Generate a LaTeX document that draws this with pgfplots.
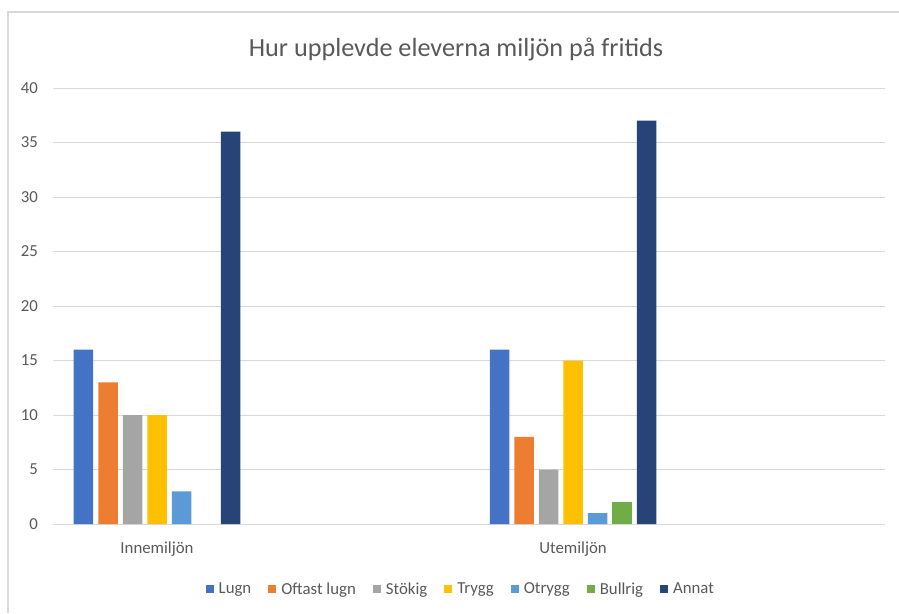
\documentclass[border=0pt]{standalone}
\usepackage{pgfplots}
\pgfplotsset{compat=1.18}
\usepackage{fontspec}
\setmainfont{Carlito}
\definecolor{cLugn}{HTML}{4472C4}
\definecolor{cOftast}{HTML}{ED7D31}
\definecolor{cStokig}{HTML}{A5A5A5}
\definecolor{cTrygg}{HTML}{FFC000}
\definecolor{cOtrygg}{HTML}{5B9BD5}
\definecolor{cBullrig}{HTML}{70AD47}
\definecolor{cAnnat}{HTML}{264478}
\definecolor{txt}{HTML}{595959}
\definecolor{grd}{HTML}{D9D9D9}
\begin{document}
\begin{tikzpicture}
\useasboundingbox (0pt,0pt) rectangle (899pt,-613pt);
\draw[grd, line width=1.2pt] (8pt,-613pt) -- (8pt,-12pt) -- (899pt,-12pt);
\begin{axis}[
  at={(53pt,-524pt)}, anchor=south west,
  scale only axis, width=832pt, height=436pt,
  xmin=-0.5, xmax=3.5, ymin=0, ymax=40,
  ytick={0,5,...,40},
  xtick={0,2}, xticklabels={Innemiljön,Utemiljön},
  ymajorgrids, grid style={grd, line width=1pt},
  axis line style={draw=none},
  major tick length=0pt,
  tick style={draw=none},
  /pgf/number format/assume math mode=true,
  ticklabel style={font=\fontsize{16.8}{20}\selectfont, text=txt},
  yticklabel style={inner sep=0pt, anchor=east, xshift=-15pt},
  xticklabel style={inner sep=0pt, anchor=base, yshift=-29pt},
  title={Hur upplevde eleverna miljön på fritids},
  title style={at={(axis description cs:0.4844,1.0596)}, anchor=base, inner sep=0pt,
    font=\fontsize{26.2}{30}\selectfont, text=txt},
  ybar, bar width=19.5pt,
  legend columns=-1,
  legend style={at={(axis description cs:0.492,-0.1490)}, anchor=center,
    draw=none, fill=none, font=\fontsize{16.8}{20}\selectfont, text=txt,
    nodes={inner xsep=5pt, inner ysep=3pt},
    /tikz/every even column/.append style={column sep=12pt}},
  legend image code/.code={\fill[#1] (0pt,-4pt) rectangle (8pt,4pt);},
]
\addplot[fill=cLugn, draw=none, bar shift=-73.5pt] coordinates {(0,16) (2,16)};
\addplot[fill=cOftast, draw=none, bar shift=-49pt] coordinates {(0,13) (2,8)};
\addplot[fill=cStokig, draw=none, bar shift=-24.5pt] coordinates {(0,10) (2,5)};
\addplot[fill=cTrygg, draw=none, bar shift=0pt] coordinates {(0,10) (2,15)};
\addplot[fill=cOtrygg, draw=none, bar shift=24.5pt] coordinates {(0,3) (2,1)};
\addplot[fill=cBullrig, draw=none, bar shift=49pt] coordinates {(2,2)};
\addplot[fill=cAnnat, draw=none, bar shift=73.5pt] coordinates {(0,36) (2,37)};
\legend{Lugn,Oftast lugn,Stökig,Trygg,Otrygg,Bullrig,Annat}
\end{axis}
\end{tikzpicture}
\end{document}
